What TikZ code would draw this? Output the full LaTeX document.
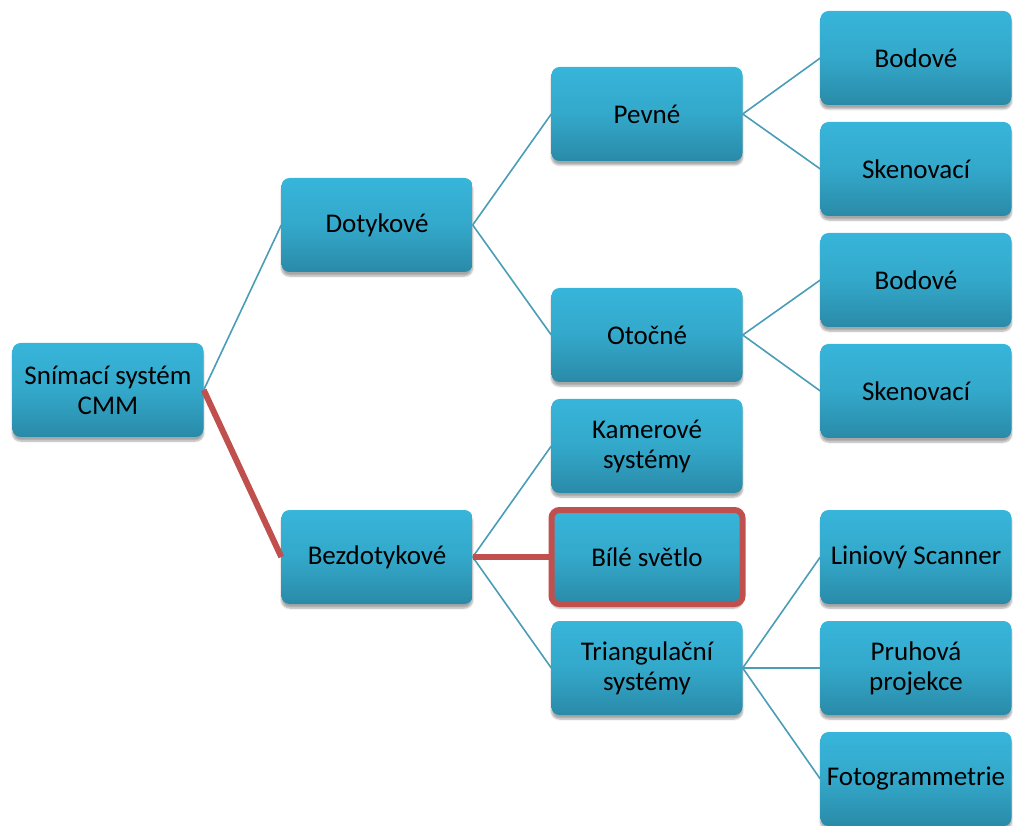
\documentclass[tikz,border=0pt]{standalone}
\usepackage{fontspec}
\setmainfont{Carlito}
\usetikzlibrary{shadows.blur}
\definecolor{boxtop}{HTML}{37B5DA}
\definecolor{boxmid}{HTML}{33A8CA}
\definecolor{boxbot}{HTML}{2A8AA8}
\definecolor{linkc}{HTML}{4A9DB6}
\definecolor{hired}{HTML}{C0504D}
\tikzset{
  box/.style={rectangle, rounded corners=8pt, minimum width=191pt, minimum height=94pt,
    top color=boxtop, bottom color=boxbot, middle color=boxmid, draw=none,
    text=black, font=\fontsize{27}{30}\selectfont, align=center, inner sep=1pt,
    blur shadow={shadow xshift=0pt, shadow yshift=-4pt, shadow blur steps=6, shadow opacity=35}},
  hibox/.style={box, draw=hired, line width=6pt},
  link/.style={draw=linkc, line width=1.6pt},
  hilink/.style={draw=hired, line width=6pt},
}
\begin{document}
\begin{tikzpicture}[x=1pt, y=-1pt]
\useasboundingbox (0,0) rectangle (1013,826);
\node[box] (root) at (108,390) {Snímací systém\\CMM};
\node[box] (dot) at (377,225) {Dotykové};
\node[box] (bez) at (377,557) {Bezdotykové};
\node[box] (pev) at (647,114) {Pevné};
\node[box] (oto) at (647,335) {Otočné};
\node[box] (kam) at (647,446) {Kamerové\\systémy};
\node[box] (tri) at (647,668) {Triangulační\\systémy};
\node[box] (bod1) at (916,58) {Bodové};
\node[box] (sken1) at (916,169) {Skenovací};
\node[box] (bod2) at (916,280) {Bodové};
\node[box] (sken2) at (916,391) {Skenovací};
\node[box] (lin) at (916,557) {Liniový Scanner};
\node[box] (pru) at (916,668) {Pruhová\\projekce};
\node[box] (foto) at (916,779) {Fotogrammetrie};
\draw[link] (root.east) -- (dot.west);
\draw[link] (dot.east) -- (pev.west);
\draw[link] (dot.east) -- (oto.west);
\draw[link] (pev.east) -- (bod1.west);
\draw[link] (pev.east) -- (sken1.west);
\draw[link] (oto.east) -- (bod2.west);
\draw[link] (oto.east) -- (sken2.west);
\draw[link] (bez.east) -- (kam.west);
\draw[link] (bez.east) -- (tri.west);
\draw[link] (tri.east) -- (lin.west);
\draw[link] (tri.east) -- (pru.west);
\draw[link] (tri.east) -- (foto.west);
\draw[hilink] (root.east) -- (bez.west);
\node[hibox] (bile) at (647,557) {Bílé světlo};
\draw[hilink] (bez.east) -- (bile.west);
\end{tikzpicture}
\end{document}
